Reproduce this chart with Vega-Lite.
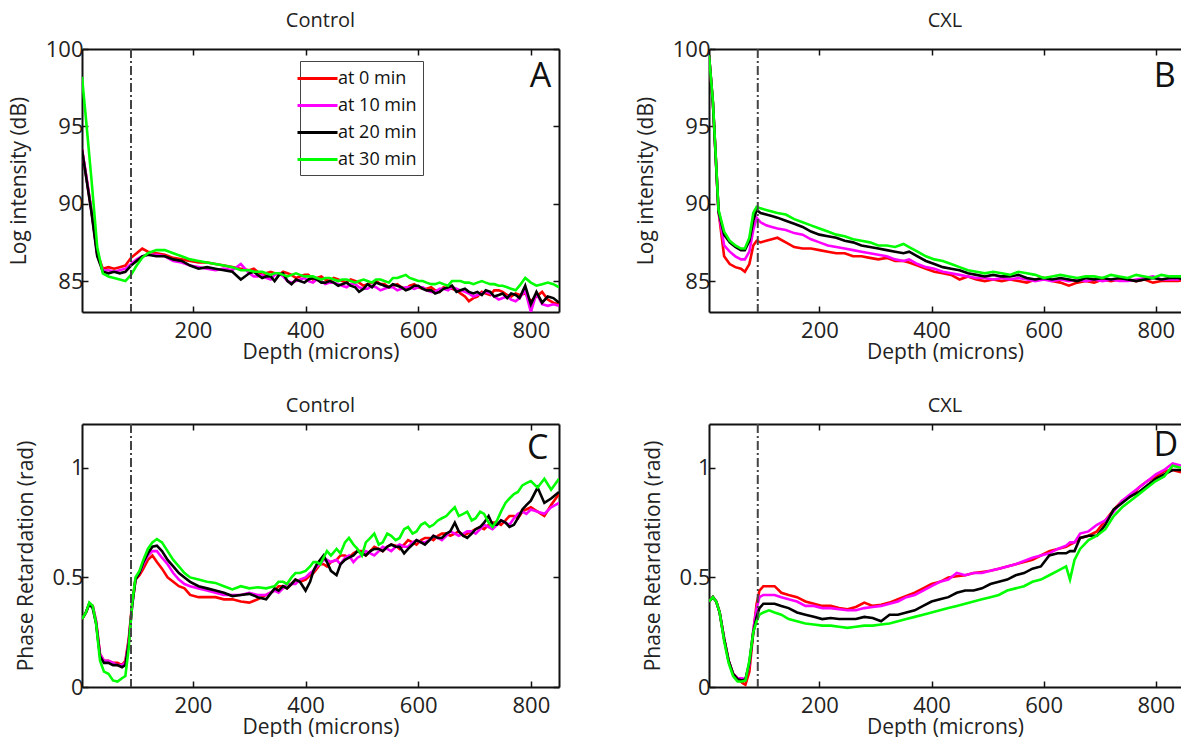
{
"$schema":"https://vega.github.io/schema/vega-lite/v6.json",
"background":"white",
"padding":{"left":8,"top":11,"right":0,"bottom":0},
"config":{"font":"Open Sans","view":{"stroke":null},
 "axis":{"domainColor":"#111","domainWidth":2,"tickColor":"#111","tickWidth":1.5,"labelColor":"#222","titleColor":"#222","labelFontSize":22,"titleFontSize":21,"titleFontWeight":"normal","grid":false,"labelFont":"Open Sans","titleFont":"Open Sans"},
 "title":{"fontSize":20,"fontWeight":"normal","color":"#222","offset":7,"font":"Open Sans"}},
"datasets":{
"A":[
{"x":3,"r":93.5,"m":93.5,"k":93.5,"g":98.2},
{"x":10,"r":91.9,"m":91.9,"k":91.8,"g":95.5},
{"x":20,"r":89.5,"m":89.5,"k":89.4,"g":91.5},
{"x":30,"r":86.8,"m":86.7,"k":86.6,"g":87.2},
{"x":40,"r":85.8,"m":85.7,"k":85.6,"g":85.5},
{"x":50,"r":85.9,"m":85.7,"k":85.5,"g":85.3},
{"x":60,"r":85.8,"m":85.6,"k":85.6,"g":85.2},
{"x":70,"r":85.9,"m":85.7,"k":85.5,"g":85.1},
{"x":80,"r":86.0,"m":85.8,"k":85.6,"g":85.0},
{"x":90,"r":86.5,"m":86.1,"k":86.0,"g":85.4},
{"x":100,"r":86.8,"m":86.4,"k":86.3,"g":86.0},
{"x":110,"r":87.1,"m":86.6,"k":86.6,"g":86.5},
{"x":120,"r":86.9,"m":86.7,"k":86.7,"g":86.8},
{"x":135,"r":86.8,"m":86.7,"k":86.6,"g":87.0},
{"x":150,"r":86.7,"m":86.6,"k":86.6,"g":87.0},
{"x":165,"r":86.5,"m":86.3,"k":86.4,"g":86.8},
{"x":180,"r":86.4,"m":86.2,"k":86.3,"g":86.6},
{"x":195,"r":86.3,"m":86.0,"k":86.0,"g":86.4},
{"x":210,"r":86.2,"m":85.9,"k":85.8,"g":86.3},
{"x":225,"r":86.2,"m":85.8,"k":85.9,"g":86.2},
{"x":240,"r":86.1,"m":85.7,"k":85.8,"g":86.1},
{"x":255,"r":86.0,"m":85.8,"k":85.7,"g":86.0},
{"x":270,"r":85.9,"m":85.7,"k":85.6,"g":85.9},
{"x":285,"r":85.8,"m":86.1,"k":85.1,"g":85.7},
{"x":300,"r":85.7,"m":85.5,"k":85.5,"g":85.7},
{"x":315,"r":85.6,"m":85.3,"k":85.4,"g":85.6},
{"x":330,"r":85.5,"m":85.2,"k":85.3,"g":85.5},
{"x":345,"r":85.5,"m":85.4,"k":85.0,"g":85.5},
{"x":360,"r":85.6,"m":85.3,"k":85.5,"g":85.4},
{"x":375,"r":85.4,"m":84.9,"k":84.8,"g":85.4},
{"x":390,"r":85.3,"m":85.1,"k":85.0,"g":85.4},
{"x":405,"r":85.4,"m":85.0,"k":85.1,"g":85.3},
{"x":420,"r":85.2,"m":85.1,"k":85.1,"g":85.2},
{"x":435,"r":85.1,"m":84.8,"k":84.9,"g":85.2},
{"x":450,"r":85.2,"m":84.9,"k":84.9,"g":85.1},
{"x":465,"r":85.0,"m":84.7,"k":84.8,"g":85.1},
{"x":480,"r":85.1,"m":84.8,"k":84.7,"g":85.0},
{"x":495,"r":84.9,"m":84.6,"k":84.3,"g":85.0},
{"x":510,"r":84.8,"m":84.5,"k":84.8,"g":85.0},
{"x":525,"r":85.0,"m":84.6,"k":84.9,"g":85.1},
{"x":540,"r":84.8,"m":84.5,"k":84.7,"g":85.0},
{"x":555,"r":84.7,"m":84.6,"k":84.8,"g":85.2},
{"x":570,"r":84.6,"m":84.5,"k":84.6,"g":85.3},
{"x":585,"r":84.7,"m":84.6,"k":84.5,"g":85.2},
{"x":600,"r":84.6,"m":84.6,"k":84.7,"g":85.0},
{"x":615,"r":84.5,"m":84.4,"k":84.4,"g":84.9},
{"x":630,"r":84.4,"m":84.3,"k":84.2,"g":84.8},
{"x":645,"r":84.6,"m":84.5,"k":84.5,"g":84.8},
{"x":660,"r":84.5,"m":84.6,"k":84.7,"g":85.0},
{"x":675,"r":84.2,"m":84.4,"k":84.4,"g":85.0},
{"x":690,"r":83.7,"m":84.2,"k":84.3,"g":84.9},
{"x":705,"r":84.0,"m":84.1,"k":84.3,"g":84.9},
{"x":720,"r":84.2,"m":84.3,"k":84.4,"g":84.9},
{"x":735,"r":84.4,"m":84.0,"k":84.0,"g":84.8},
{"x":750,"r":84.3,"m":83.9,"k":84.2,"g":84.7},
{"x":765,"r":84.0,"m":83.8,"k":84.2,"g":84.5},
{"x":780,"r":84.1,"m":83.9,"k":83.9,"g":84.7},
{"x":790,"r":84.2,"m":84.4,"k":84.7,"g":85.2},
{"x":800,"r":83.7,"m":83.0,"k":83.5,"g":84.9},
{"x":810,"r":84.0,"m":84.2,"k":84.3,"g":84.7},
{"x":820,"r":84.3,"m":83.5,"k":83.6,"g":84.8},
{"x":830,"r":83.8,"m":83.4,"k":84.0,"g":84.9},
{"x":840,"r":83.6,"m":83.5,"k":83.9,"g":84.8},
{"x":850,"r":83.5,"m":83.4,"k":83.6,"g":84.6},
{"x":308,"r":85.8,"m":85.3,"k":85.6,"g":85.6},
{"x":323,"r":85.4,"m":85.4,"k":85.2,"g":85.6},
{"x":338,"r":85.6,"m":85.1,"k":85.3,"g":85.4},
{"x":353,"r":85.4,"m":85.5,"k":85.4,"g":85.5},
{"x":368,"r":85.5,"m":85.0,"k":85.0,"g":85.3},
{"x":383,"r":85.2,"m":85.0,"k":85.1,"g":85.5},
{"x":398,"r":85.4,"m":85.2,"k":84.9,"g":85.3},
{"x":413,"r":85.1,"m":84.9,"k":85.2,"g":85.3},
{"x":428,"r":85.3,"m":85.0,"k":84.9,"g":85.1},
{"x":443,"r":85.0,"m":84.9,"k":85.0,"g":85.2},
{"x":458,"r":85.1,"m":84.8,"k":84.7,"g":85.0},
{"x":473,"r":84.9,"m":84.6,"k":84.9,"g":85.1},
{"x":488,"r":85.0,"m":84.8,"k":84.6,"g":84.9},
{"x":503,"r":84.7,"m":84.5,"k":84.5,"g":85.1},
{"x":518,"r":84.9,"m":84.7,"k":84.6,"g":84.9},
{"x":533,"r":84.8,"m":84.4,"k":84.8,"g":85.1},
{"x":548,"r":84.6,"m":84.6,"k":84.6,"g":84.9},
{"x":563,"r":84.8,"m":84.4,"k":84.7,"g":85.2},
{"x":578,"r":84.5,"m":84.6,"k":84.4,"g":85.4},
{"x":593,"r":84.8,"m":84.5,"k":84.7,"g":85.1},
{"x":608,"r":84.5,"m":84.6,"k":84.5,"g":85.0},
{"x":623,"r":84.6,"m":84.3,"k":84.4,"g":84.8},
{"x":638,"r":84.3,"m":84.5,"k":84.3,"g":84.9},
{"x":653,"r":84.5,"m":84.4,"k":84.6,"g":84.7},
{"x":668,"r":84.4,"m":84.5,"k":84.3,"g":85.0},
{"x":683,"r":84.0,"m":84.3,"k":84.5,"g":84.9},
{"x":698,"r":83.9,"m":84.0,"k":84.2,"g":84.8},
{"x":713,"r":84.3,"m":84.2,"k":84.1,"g":85.0},
{"x":728,"r":84.1,"m":84.2,"k":84.3,"g":84.8},
{"x":743,"r":84.4,"m":83.8,"k":84.1,"g":84.7},
{"x":758,"r":84.1,"m":84.0,"k":83.9,"g":84.6},
{"x":773,"r":84.2,"m":83.7,"k":84.1,"g":84.4}
],
"B":[
{"x":3,"r":99.6,"m":99.6,"k":99.6,"g":99.6},
{"x":10,"r":96.5,"m":96.5,"k":96.5,"g":96.6},
{"x":20,"r":89.5,"m":89.5,"k":89.5,"g":89.6},
{"x":30,"r":86.6,"m":87.3,"k":88.0,"g":88.2},
{"x":40,"r":86.1,"m":86.9,"k":87.5,"g":87.6},
{"x":50,"r":85.9,"m":86.6,"k":87.2,"g":87.3},
{"x":60,"r":85.8,"m":86.4,"k":87.0,"g":87.1},
{"x":67,"r":85.6,"m":86.4,"k":87.0,"g":87.1},
{"x":75,"r":86.1,"m":86.9,"k":87.6,"g":87.8},
{"x":82,"r":87.3,"m":88.3,"k":88.9,"g":89.4},
{"x":88,"r":87.6,"m":89.1,"k":89.6,"g":89.8},
{"x":95,"r":87.5,"m":88.8,"k":89.4,"g":89.7},
{"x":105,"r":87.6,"m":88.6,"k":89.3,"g":89.6},
{"x":115,"r":87.7,"m":88.5,"k":89.2,"g":89.5},
{"x":125,"r":87.8,"m":88.4,"k":89.1,"g":89.4},
{"x":140,"r":87.5,"m":88.3,"k":88.9,"g":89.3},
{"x":155,"r":87.2,"m":88.1,"k":88.7,"g":89.0},
{"x":170,"r":87.1,"m":88.0,"k":88.5,"g":88.8},
{"x":185,"r":87.1,"m":87.7,"k":88.2,"g":88.6},
{"x":200,"r":87.0,"m":87.5,"k":88.0,"g":88.4},
{"x":215,"r":86.9,"m":87.3,"k":87.9,"g":88.2},
{"x":230,"r":86.8,"m":87.2,"k":87.8,"g":88.0},
{"x":245,"r":86.8,"m":87.1,"k":87.6,"g":87.9},
{"x":260,"r":86.6,"m":87.0,"k":87.5,"g":87.7},
{"x":275,"r":86.6,"m":86.9,"k":87.3,"g":87.6},
{"x":290,"r":86.5,"m":86.8,"k":87.2,"g":87.5},
{"x":305,"r":86.4,"m":86.7,"k":87.1,"g":87.3},
{"x":320,"r":86.5,"m":86.6,"k":87.0,"g":87.3},
{"x":335,"r":86.3,"m":86.4,"k":86.9,"g":87.2},
{"x":350,"r":86.3,"m":86.3,"k":86.8,"g":87.4},
{"x":360,"r":86.2,"m":86.4,"k":86.9,"g":87.2},
{"x":375,"r":86.0,"m":86.1,"k":86.6,"g":86.9},
{"x":390,"r":85.8,"m":85.9,"k":86.3,"g":86.6},
{"x":405,"r":85.6,"m":85.8,"k":86.1,"g":86.4},
{"x":420,"r":85.5,"m":85.6,"k":85.9,"g":86.3},
{"x":435,"r":85.4,"m":85.5,"k":85.8,"g":86.1},
{"x":450,"r":85.1,"m":85.4,"k":85.7,"g":85.9},
{"x":465,"r":85.3,"m":85.3,"k":85.5,"g":85.7},
{"x":480,"r":85.1,"m":85.2,"k":85.4,"g":85.6},
{"x":495,"r":85.0,"m":85.2,"k":85.3,"g":85.5},
{"x":510,"r":85.1,"m":85.1,"k":85.4,"g":85.6},
{"x":525,"r":85.0,"m":85.2,"k":85.3,"g":85.5},
{"x":540,"r":85.1,"m":85.1,"k":85.3,"g":85.4},
{"x":555,"r":85.0,"m":85.2,"k":85.4,"g":85.6},
{"x":570,"r":84.9,"m":85.1,"k":85.2,"g":85.5},
{"x":585,"r":85.1,"m":85.0,"k":85.1,"g":85.4},
{"x":600,"r":85.2,"m":85.1,"k":85.2,"g":85.2},
{"x":615,"r":85.0,"m":85.0,"k":85.1,"g":85.3},
{"x":630,"r":84.9,"m":85.1,"k":85.2,"g":85.4},
{"x":645,"r":84.7,"m":85.0,"k":85.1,"g":85.3},
{"x":660,"r":84.9,"m":85.1,"k":85.0,"g":85.2},
{"x":675,"r":85.0,"m":85.0,"k":85.2,"g":85.3},
{"x":690,"r":84.9,"m":85.1,"k":85.1,"g":85.3},
{"x":705,"r":85.1,"m":85.0,"k":85.2,"g":85.2},
{"x":720,"r":85.0,"m":85.1,"k":85.1,"g":85.4},
{"x":735,"r":85.1,"m":85.0,"k":85.2,"g":85.3},
{"x":750,"r":85.1,"m":85.0,"k":85.1,"g":85.2},
{"x":765,"r":85.0,"m":85.1,"k":85.0,"g":85.4},
{"x":780,"r":85.1,"m":85.2,"k":85.1,"g":85.3},
{"x":795,"r":84.9,"m":85.3,"k":85.2,"g":85.2},
{"x":810,"r":85.0,"m":85.1,"k":85.1,"g":85.4},
{"x":825,"r":85.0,"m":85.1,"k":85.2,"g":85.3},
{"x":840,"r":85.0,"m":85.1,"k":85.2,"g":85.3},
{"x":850,"r":85.1,"m":85.2,"k":85.1,"g":85.3}
],
"C":[
{"x":3,"r":0.31,"m":0.31,"k":0.31,"g":0.31},
{"x":10,"r":0.34,"m":0.34,"k":0.34,"g":0.34},
{"x":16,"r":0.38,"m":0.38,"k":0.38,"g":0.385},
{"x":22,"r":0.37,"m":0.37,"k":0.36,"g":0.37},
{"x":28,"r":0.30,"m":0.30,"k":0.29,"g":0.29},
{"x":35,"r":0.15,"m":0.15,"k":0.14,"g":0.12},
{"x":42,"r":0.12,"m":0.12,"k":0.11,"g":0.07},
{"x":50,"r":0.12,"m":0.12,"k":0.11,"g":0.06},
{"x":58,"r":0.11,"m":0.11,"k":0.10,"g":0.03},
{"x":66,"r":0.11,"m":0.10,"k":0.10,"g":0.025},
{"x":74,"r":0.10,"m":0.10,"k":0.09,"g":0.04},
{"x":80,"r":0.12,"m":0.11,"k":0.10,"g":0.05},
{"x":86,"r":0.22,"m":0.21,"k":0.20,"g":0.18},
{"x":92,"r":0.38,"m":0.37,"k":0.37,"g":0.38},
{"x":98,"r":0.49,"m":0.49,"k":0.49,"g":0.50},
{"x":105,"r":0.51,"m":0.52,"k":0.52,"g":0.53},
{"x":112,"r":0.54,"m":0.56,"k":0.57,"g":0.58},
{"x":120,"r":0.58,"m":0.60,"k":0.61,"g":0.63},
{"x":128,"r":0.60,"m":0.62,"k":0.64,"g":0.66},
{"x":136,"r":0.57,"m":0.62,"k":0.645,"g":0.675},
{"x":145,"r":0.54,"m":0.59,"k":0.62,"g":0.66},
{"x":155,"r":0.50,"m":0.56,"k":0.58,"g":0.62},
{"x":165,"r":0.48,"m":0.52,"k":0.55,"g":0.58},
{"x":175,"r":0.46,"m":0.49,"k":0.52,"g":0.55},
{"x":185,"r":0.45,"m":0.47,"k":0.50,"g":0.52},
{"x":195,"r":0.42,"m":0.46,"k":0.48,"g":0.50},
{"x":210,"r":0.41,"m":0.45,"k":0.46,"g":0.49},
{"x":225,"r":0.41,"m":0.44,"k":0.45,"g":0.48},
{"x":240,"r":0.41,"m":0.43,"k":0.44,"g":0.475},
{"x":255,"r":0.40,"m":0.42,"k":0.43,"g":0.46},
{"x":270,"r":0.40,"m":0.42,"k":0.415,"g":0.445},
{"x":285,"r":0.39,"m":0.42,"k":0.42,"g":0.46},
{"x":300,"r":0.385,"m":0.43,"k":0.425,"g":0.45},
{"x":315,"r":0.40,"m":0.42,"k":0.41,"g":0.455},
{"x":330,"r":0.42,"m":0.42,"k":0.40,"g":0.45},
{"x":345,"r":0.44,"m":0.44,"k":0.45,"g":0.46},
{"x":360,"r":0.46,"m":0.45,"k":0.46,"g":0.48},
{"x":375,"r":0.47,"m":0.47,"k":0.47,"g":0.50},
{"x":390,"r":0.48,"m":0.49,"k":0.48,"g":0.52},
{"x":400,"r":0.49,"m":0.50,"k":0.44,"g":0.53},
{"x":408,"r":0.51,"m":0.52,"k":0.48,"g":0.55},
{"x":420,"r":0.54,"m":0.55,"k":0.56,"g":0.57},
{"x":432,"r":0.56,"m":0.58,"k":0.60,"g":0.59},
{"x":445,"r":0.57,"m":0.57,"k":0.53,"g":0.60},
{"x":455,"r":0.58,"m":0.58,"k":0.51,"g":0.63},
{"x":470,"r":0.60,"m":0.59,"k":0.58,"g":0.66},
{"x":485,"r":0.61,"m":0.57,"k":0.60,"g":0.65},
{"x":500,"r":0.62,"m":0.60,"k":0.61,"g":0.60},
{"x":515,"r":0.62,"m":0.61,"k":0.62,"g":0.68},
{"x":530,"r":0.63,"m":0.62,"k":0.63,"g":0.65},
{"x":545,"r":0.64,"m":0.63,"k":0.64,"g":0.70},
{"x":560,"r":0.645,"m":0.64,"k":0.64,"g":0.67},
{"x":575,"r":0.65,"m":0.64,"k":0.61,"g":0.72},
{"x":590,"r":0.66,"m":0.66,"k":0.65,"g":0.70},
{"x":605,"r":0.67,"m":0.66,"k":0.66,"g":0.74},
{"x":620,"r":0.68,"m":0.67,"k":0.67,"g":0.73},
{"x":635,"r":0.69,"m":0.68,"k":0.68,"g":0.76},
{"x":650,"r":0.70,"m":0.69,"k":0.70,"g":0.78},
{"x":665,"r":0.70,"m":0.70,"k":0.75,"g":0.82},
{"x":680,"r":0.69,"m":0.70,"k":0.69,"g":0.79},
{"x":695,"r":0.71,"m":0.71,"k":0.70,"g":0.76},
{"x":710,"r":0.73,"m":0.72,"k":0.73,"g":0.80},
{"x":725,"r":0.74,"m":0.73,"k":0.78,"g":0.75},
{"x":740,"r":0.75,"m":0.74,"k":0.74,"g":0.76},
{"x":755,"r":0.76,"m":0.75,"k":0.75,"g":0.84},
{"x":770,"r":0.78,"m":0.77,"k":0.74,"g":0.88},
{"x":785,"r":0.80,"m":0.80,"k":0.81,"g":0.92},
{"x":800,"r":0.82,"m":0.81,"k":0.85,"g":0.94},
{"x":812,"r":0.80,"m":0.80,"k":0.91,"g":0.91},
{"x":824,"r":0.78,"m":0.79,"k":0.84,"g":0.95},
{"x":836,"r":0.83,"m":0.82,"k":0.86,"g":0.90},
{"x":850,"r":0.88,"m":0.84,"k":0.89,"g":0.95},
{"x":352,"r":0.46,"m":0.43,"k":0.44,"g":0.48},
{"x":367,"r":0.45,"m":0.47,"k":0.45,"g":0.47},
{"x":382,"r":0.49,"m":0.47,"k":0.49,"g":0.52},
{"x":414,"r":0.52,"m":0.53,"k":0.53,"g":0.57},
{"x":426,"r":0.56,"m":0.56,"k":0.58,"g":0.56},
{"x":438,"r":0.55,"m":0.58,"k":0.57,"g":0.62},
{"x":462,"r":0.60,"m":0.56,"k":0.56,"g":0.61},
{"x":477,"r":0.59,"m":0.60,"k":0.59,"g":0.68},
{"x":492,"r":0.62,"m":0.59,"k":0.62,"g":0.63},
{"x":507,"r":0.60,"m":0.62,"k":0.60,"g":0.66},
{"x":522,"r":0.64,"m":0.60,"k":0.63,"g":0.70},
{"x":537,"r":0.62,"m":0.64,"k":0.62,"g":0.66},
{"x":552,"r":0.65,"m":0.62,"k":0.65,"g":0.69},
{"x":567,"r":0.63,"m":0.65,"k":0.64,"g":0.68},
{"x":582,"r":0.67,"m":0.64,"k":0.63,"g":0.73},
{"x":597,"r":0.65,"m":0.67,"k":0.67,"g":0.71},
{"x":612,"r":0.68,"m":0.66,"k":0.65,"g":0.75},
{"x":627,"r":0.67,"m":0.69,"k":0.69,"g":0.74},
{"x":642,"r":0.70,"m":0.67,"k":0.68,"g":0.77},
{"x":657,"r":0.69,"m":0.71,"k":0.71,"g":0.80},
{"x":672,"r":0.71,"m":0.69,"k":0.71,"g":0.78},
{"x":687,"r":0.70,"m":0.71,"k":0.68,"g":0.80},
{"x":702,"r":0.72,"m":0.70,"k":0.72,"g":0.77},
{"x":717,"r":0.72,"m":0.74,"k":0.75,"g":0.79},
{"x":732,"r":0.75,"m":0.72,"k":0.74,"g":0.73},
{"x":747,"r":0.74,"m":0.76,"k":0.76,"g":0.80},
{"x":762,"r":0.78,"m":0.74,"k":0.73,"g":0.86},
{"x":777,"r":0.77,"m":0.79,"k":0.77,"g":0.89},
{"x":792,"r":0.81,"m":0.79,"k":0.83,"g":0.93}
],
"D":[
{"x":3,"r":0.39,"m":0.39,"k":0.39,"g":0.39},
{"x":10,"r":0.41,"m":0.41,"k":0.41,"g":0.41},
{"x":16,"r":0.39,"m":0.39,"k":0.39,"g":0.39},
{"x":22,"r":0.34,"m":0.34,"k":0.34,"g":0.34},
{"x":30,"r":0.22,"m":0.22,"k":0.22,"g":0.21},
{"x":38,"r":0.12,"m":0.12,"k":0.12,"g":0.11},
{"x":46,"r":0.06,"m":0.06,"k":0.06,"g":0.05},
{"x":54,"r":0.04,"m":0.04,"k":0.035,"g":0.025},
{"x":62,"r":0.02,"m":0.04,"k":0.03,"g":0.025},
{"x":68,"r":0.01,"m":0.035,"k":0.035,"g":0.03},
{"x":75,"r":0.07,"m":0.10,"k":0.11,"g":0.12},
{"x":82,"r":0.25,"m":0.26,"k":0.25,"g":0.25},
{"x":88,"r":0.38,"m":0.36,"k":0.32,"g":0.30},
{"x":93,"r":0.44,"m":0.41,"k":0.36,"g":0.33},
{"x":100,"r":0.46,"m":0.42,"k":0.38,"g":0.34},
{"x":110,"r":0.46,"m":0.42,"k":0.38,"g":0.35},
{"x":120,"r":0.46,"m":0.42,"k":0.38,"g":0.34},
{"x":132,"r":0.43,"m":0.41,"k":0.37,"g":0.33},
{"x":145,"r":0.42,"m":0.40,"k":0.36,"g":0.31},
{"x":160,"r":0.41,"m":0.39,"k":0.34,"g":0.30},
{"x":175,"r":0.39,"m":0.37,"k":0.33,"g":0.29},
{"x":190,"r":0.38,"m":0.37,"k":0.32,"g":0.285},
{"x":205,"r":0.37,"m":0.36,"k":0.31,"g":0.28},
{"x":220,"r":0.37,"m":0.36,"k":0.315,"g":0.28},
{"x":235,"r":0.36,"m":0.355,"k":0.31,"g":0.275},
{"x":250,"r":0.355,"m":0.35,"k":0.31,"g":0.27},
{"x":265,"r":0.365,"m":0.35,"k":0.31,"g":0.275},
{"x":280,"r":0.385,"m":0.36,"k":0.32,"g":0.28},
{"x":295,"r":0.37,"m":0.365,"k":0.315,"g":0.28},
{"x":310,"r":0.375,"m":0.37,"k":0.30,"g":0.285},
{"x":325,"r":0.385,"m":0.38,"k":0.33,"g":0.29},
{"x":340,"r":0.40,"m":0.39,"k":0.33,"g":0.30},
{"x":355,"r":0.415,"m":0.41,"k":0.34,"g":0.31},
{"x":370,"r":0.43,"m":0.42,"k":0.35,"g":0.32},
{"x":385,"r":0.45,"m":0.44,"k":0.37,"g":0.33},
{"x":400,"r":0.47,"m":0.46,"k":0.39,"g":0.34},
{"x":415,"r":0.48,"m":0.48,"k":0.40,"g":0.35},
{"x":430,"r":0.50,"m":0.49,"k":0.41,"g":0.36},
{"x":445,"r":0.505,"m":0.52,"k":0.43,"g":0.37},
{"x":460,"r":0.51,"m":0.51,"k":0.44,"g":0.38},
{"x":475,"r":0.52,"m":0.52,"k":0.44,"g":0.39},
{"x":490,"r":0.525,"m":0.52,"k":0.45,"g":0.40},
{"x":505,"r":0.53,"m":0.53,"k":0.47,"g":0.41},
{"x":520,"r":0.54,"m":0.54,"k":0.48,"g":0.42},
{"x":535,"r":0.55,"m":0.55,"k":0.49,"g":0.44},
{"x":550,"r":0.56,"m":0.56,"k":0.51,"g":0.45},
{"x":565,"r":0.57,"m":0.575,"k":0.52,"g":0.46},
{"x":580,"r":0.58,"m":0.59,"k":0.54,"g":0.48},
{"x":595,"r":0.60,"m":0.60,"k":0.55,"g":0.49},
{"x":610,"r":0.62,"m":0.61,"k":0.60,"g":0.51},
{"x":625,"r":0.63,"m":0.63,"k":0.61,"g":0.53},
{"x":640,"r":0.64,"m":0.645,"k":0.61,"g":0.55},
{"x":647,"r":0.65,"m":0.66,"k":0.62,"g":0.49},
{"x":655,"r":0.66,"m":0.66,"k":0.62,"g":0.58},
{"x":665,"r":0.68,"m":0.70,"k":0.68,"g":0.63},
{"x":680,"r":0.69,"m":0.71,"k":0.69,"g":0.67},
{"x":695,"r":0.71,"m":0.74,"k":0.69,"g":0.69},
{"x":710,"r":0.76,"m":0.76,"k":0.74,"g":0.72},
{"x":725,"r":0.81,"m":0.80,"k":0.81,"g":0.78},
{"x":740,"r":0.85,"m":0.85,"k":0.84,"g":0.82},
{"x":755,"r":0.87,"m":0.88,"k":0.87,"g":0.85},
{"x":770,"r":0.91,"m":0.91,"k":0.89,"g":0.88},
{"x":785,"r":0.94,"m":0.94,"k":0.92,"g":0.91},
{"x":800,"r":0.96,"m":0.97,"k":0.95,"g":0.94},
{"x":815,"r":0.985,"m":0.99,"k":0.97,"g":0.96},
{"x":830,"r":0.99,"m":1.02,"k":0.99,"g":1.01},
{"x":845,"r":0.98,"m":1.01,"k":0.99,"g":1.00}
]
},
"columns":2,
"spacing":{"row":112,"column":150},
"bounds":"flush",
"resolve":{"scale":{"color":"independent"}},
"concat":[
 {"width":477,"height":263,"title":"Control",
  "layer":[
   {"data":{"name":"A"},"transform":[{"fold":["r","m","k","g"],"as":["s","v"]}],
    "mark":{"type":"line","strokeWidth":2.6,"clip":true},
    "encoding":{
     "x":{"field":"x","type":"quantitative","scale":{"domain":[3,850],"nice":false,"zero":false},"axis":{"values":[200,400,600,800],"tickSize":-6,"labelPadding":14,"title":"Depth (microns)","titlePadding":0}},
     "y":{"field":"v","type":"quantitative","scale":{"domain":[83,100],"nice":false,"zero":false},"axis":{"values":[85,90,95,100],"tickSize":-6,"labelPadding":5,"title":"Log intensity (dB)","titlePadding":16}},
     "color":{"field":"s","type":"nominal","sort":null,"scale":{"domain":["r","m","k","g"],"range":["#ff0000","#ff00ff","#000000","#00ff00"]},
      "legend":{"orient":"none","legendX":218,"legendY":12,"title":null,"strokeColor":"#444","fillColor":"white","padding":6,"symbolType":"M-2,0H2","symbolSize":400,"symbolStrokeWidth":3,"labelFontSize":18,"labelFont":"Open Sans","labelColor":"#111","rowPadding":6,"labelOffset":9,
       "labelExpr":"datum.label=='r'?'at 0 min    ':datum.label=='m'?'at 10 min    ':datum.label=='k'?'at 20 min    ':'at 30 min    '"}}}},
   {"data":{"values":[{"d":90}]},"mark":{"type":"rule","strokeDash":[9,3,2,3],"strokeWidth":2,"color":"#444"},
    "encoding":{"x":{"field":"d","type":"quantitative","axis":{"orient":"top","values":[200,400,600,800],"labels":false,"title":null,"tickSize":-6}}}},
   {"data":{"values":[{"tx":817,"ty":98.2,"t":"A"}]},"mark":{"type":"text","fontSize":34,"color":"#111"},
    "encoding":{"text":{"field":"t"},"x":{"field":"tx","type":"quantitative","axis":null},"y":{"field":"ty","type":"quantitative","axis":{"orient":"right","values":[85,90,95,100],"labels":false,"title":null,"tickSize":-6}}}}
  ],
  "resolve":{"axis":{"x":"independent","y":"independent"}}},
 {"width":472,"height":263,"title":"CXL",
  "layer":[
   {"data":{"name":"B"},"transform":[{"fold":["r","m","k","g"],"as":["s","v"]}],
    "mark":{"type":"line","strokeWidth":2.6,"clip":true},
    "encoding":{
     "x":{"field":"x","type":"quantitative","scale":{"domain":[3,845],"nice":false,"zero":false},"axis":{"values":[200,400,600,800],"tickSize":-6,"labelPadding":14,"title":"Depth (microns)","titlePadding":0}},
     "y":{"field":"v","type":"quantitative","scale":{"domain":[83,100],"nice":false,"zero":false},"axis":{"values":[85,90,95,100],"tickSize":-6,"labelPadding":5,"title":"Log intensity (dB)","titlePadding":16}},
     "color":{"field":"s","type":"nominal","sort":null,"scale":{"domain":["r","m","k","g"],"range":["#ff0000","#ff00ff","#000000","#00ff00"]},"legend":null}}},
   {"data":{"values":[{"d":90}]},"mark":{"type":"rule","strokeDash":[9,3,2,3],"strokeWidth":2,"color":"#444"},
    "encoding":{"x":{"field":"d","type":"quantitative","axis":{"orient":"top","values":[200,400,600,800],"labels":false,"title":null,"tickSize":-6}}}},
   {"data":{"values":[{"tx":816,"ty":98.2,"t":"B"}]},"mark":{"type":"text","fontSize":34,"color":"#111"},
    "encoding":{"text":{"field":"t"},"x":{"field":"tx","type":"quantitative","axis":null},"y":{"field":"ty","type":"quantitative","axis":null}}}
  ],
  "resolve":{"axis":{"x":"independent","y":"independent"}}},
 {"width":477,"height":263,"title":"Control",
  "layer":[
   {"data":{"name":"C"},"transform":[{"fold":["r","m","k","g"],"as":["s","v"]}],
    "mark":{"type":"line","strokeWidth":2.6,"clip":true},
    "encoding":{
     "x":{"field":"x","type":"quantitative","scale":{"domain":[3,850],"nice":false,"zero":false},"axis":{"values":[200,400,600,800],"tickSize":-6,"labelPadding":14,"title":"Depth  (microns)","titlePadding":0}},
     "y":{"field":"v","type":"quantitative","scale":{"domain":[0,1.2],"nice":false,"zero":false},"axis":{"values":[0,0.5,1],"format":"~g","tickSize":-6,"labelPadding":5,"title":"Phase Retardation (rad)","titlePadding":16}},
     "color":{"field":"s","type":"nominal","sort":null,"scale":{"domain":["r","m","k","g"],"range":["#ff0000","#ff00ff","#000000","#00ff00"]},"legend":null}}},
   {"data":{"values":[{"d":90}]},"mark":{"type":"rule","strokeDash":[9,3,2,3],"strokeWidth":2,"color":"#444"},
    "encoding":{"x":{"field":"d","type":"quantitative","axis":{"orient":"top","values":[200,400,600,800],"labels":false,"title":null,"tickSize":-6}}}},
   {"data":{"values":[{"tx":812,"ty":1.085,"t":"C"}]},"mark":{"type":"text","fontSize":34,"color":"#111"},
    "encoding":{"text":{"field":"t"},"x":{"field":"tx","type":"quantitative","axis":null},"y":{"field":"ty","type":"quantitative","axis":{"orient":"right","values":[0,0.5,1],"labels":false,"title":null,"tickSize":-6}}}}
  ],
  "resolve":{"axis":{"x":"independent","y":"independent"}}},
 {"width":472,"height":263,"title":"CXL",
  "layer":[
   {"data":{"name":"D"},"transform":[{"fold":["r","m","k","g"],"as":["s","v"]}],
    "mark":{"type":"line","strokeWidth":2.6,"clip":true},
    "encoding":{
     "x":{"field":"x","type":"quantitative","scale":{"domain":[3,845],"nice":false,"zero":false},"axis":{"values":[200,400,600,800],"tickSize":-6,"labelPadding":14,"title":"Depth  (microns)","titlePadding":0}},
     "y":{"field":"v","type":"quantitative","scale":{"domain":[0,1.2],"nice":false,"zero":false},"axis":{"values":[0,0.5,1],"format":"~g","tickSize":-6,"labelPadding":5,"title":"Phase Retardation (rad)","titlePadding":16}},
     "color":{"field":"s","type":"nominal","sort":null,"scale":{"domain":["r","m","k","g"],"range":["#ff0000","#ff00ff","#000000","#00ff00"]},"legend":null}}},
   {"data":{"values":[{"d":90}]},"mark":{"type":"rule","strokeDash":[9,3,2,3],"strokeWidth":2,"color":"#444"},
    "encoding":{"x":{"field":"d","type":"quantitative","axis":{"orient":"top","values":[200,400,600,800],"labels":false,"title":null,"tickSize":-6}}}},
   {"data":{"values":[{"tx":818,"ty":1.1,"t":"D"}]},"mark":{"type":"text","fontSize":34,"color":"#111"},
    "encoding":{"text":{"field":"t"},"x":{"field":"tx","type":"quantitative","axis":null},"y":{"field":"ty","type":"quantitative","axis":null}}}
  ],
  "resolve":{"axis":{"x":"independent","y":"independent"}}}
]
}
